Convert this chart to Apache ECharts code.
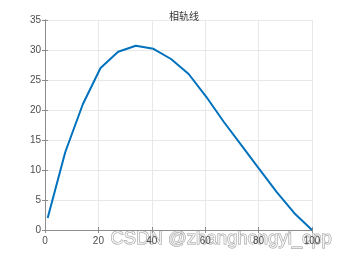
<!DOCTYPE html>
<html>
<head>
<meta charset="utf-8">
<script src="https://cdn.jsdelivr.net/npm/echarts@6/dist/echarts.min.js"></script>
<style>
    html, body { margin: 0; padding: 0; background: #fff; }
    .chart { width: 345px; height: 259px; }
</style>
</head>
<body>
<div class="chart"></div>
<script>
// 相轨线数据
const xs = [1, 7.6, 14.2, 20.8, 27.4, 34, 40.6, 47.2, 53.8, 60.4, 67, 73.6, 80.2, 86.8, 93.4, 100]
const ys = [2, 13.0, 21.0, 27.0, 29.7, 30.7, 30.2, 28.5, 26.0, 22.2, 18.0, 14.1, 10.2, 6.3, 2.8, 0]
const xTicks = [0, 20, 40, 60, 80, 100]
const yTicks = [0, 5, 10, 15, 20, 25, 30, 35]

;(function () {
    const myChart = echarts.init(document.querySelector('.chart'))
    const axisColor = '#8c8c8c'
    const labelStyle = { color: '#4d4d4d', fontSize: 10, fontFamily: 'Liberation Sans' }
    const option = {
        animation: false,
        title: {
            text: '相轨线',
            left: 179,
            top: 6,
            textAlign: 'center',
            textStyle: { color: '#333', fontSize: 10, fontWeight: 'normal', fontFamily: 'Noto Sans CJK SC' }
        },
        grid: { left: 45, right: 33, top: 20, bottom: 29 },
        xAxis: [
            {
                type: 'value',
                min: xTicks[0],
                max: xTicks[xTicks.length - 1],
                interval: 20,
                axisLine: { onZero: false, lineStyle: { color: axisColor } },
                axisTick: { inside: true, length: 3, lineStyle: { color: axisColor } },
                axisLabel: Object.assign({ margin: 6 }, labelStyle),
                splitLine: { lineStyle: { color: '#e8e8e8' } }
            },
            {
                type: 'value',
                position: 'top',
                min: 0,
                max: 100,
                interval: 20,
                axisLine: { show: true, lineStyle: { color: axisColor } },
                axisTick: { inside: true, length: 3, lineStyle: { color: axisColor } },
                axisLabel: { show: false },
                splitLine: { show: false }
            }
        ],
        yAxis: [
            {
                type: 'value',
                min: yTicks[0],
                max: yTicks[yTicks.length - 1],
                interval: 5,
                axisLine: { show: true, onZero: false, lineStyle: { color: axisColor } },
                axisTick: { show: true, inside: true, length: 3, lineStyle: { color: axisColor } },
                axisLabel: Object.assign({ margin: 4 }, labelStyle),
                splitLine: { lineStyle: { color: '#e8e8e8' } }
            },
            {
                type: 'value',
                position: 'right',
                min: 0,
                max: 35,
                interval: 5,
                axisLine: { show: true, lineStyle: { color: axisColor } },
                axisTick: { show: true, inside: true, length: 3, lineStyle: { color: axisColor } },
                axisLabel: { show: false },
                splitLine: { show: false }
            }
        ],
        series: [
            {
                type: 'line',
                data: xs.map((x, i) => [x, ys[i]]),
                symbol: 'none',
                lineStyle: { color: '#0072bd', width: 2 }
            }
        ],
        graphic: [
            {
                type: 'text',
                left: 110,
                top: 229,
                style: {
                    text: 'CSDN @zhanghongyi_cpp',
                    font: '18.5px "Liberation Sans"',
                    fill: 'rgba(255,255,255,0.75)',
                    stroke: '#9a9a9a',
                    lineWidth: 1
                }
            }
        ]
    }
    myChart.setOption(option)
})()
</script>
</body>
</html>
